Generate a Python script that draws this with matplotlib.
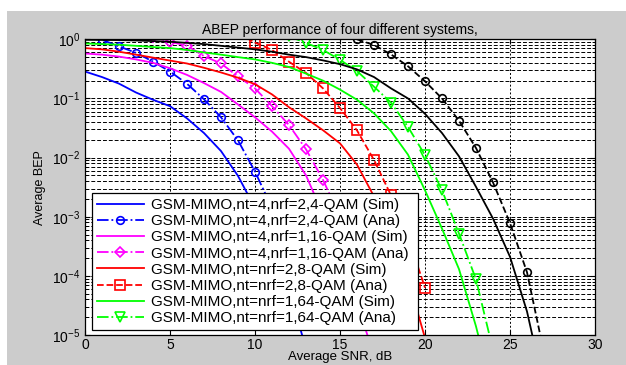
import matplotlib
matplotlib.use("Agg")
import matplotlib.pyplot as plt
import numpy as np
from matplotlib.patches import Rectangle

plt.rcParams["font.family"] = ["Liberation Sans", "DejaVu Sans"]
plt.rcParams["mathtext.default"] = "regular"

# SNR grid (dB) and BEP values
snr_blue_sim = list(range(0, 14))
bep_blue_sim = [0.285, 0.23, 0.178, 0.126, 0.095, 0.074, 0.046, 0.026, 0.0129, 0.0049,
                1.4e-3, 3.2e-4, 5.6e-5, 6.0e-6]
snr_blue_ana = list(range(0, 13))
bep_blue_ana = [1.25, 0.98, 0.76, 0.59, 0.42, 0.285, 0.177, 0.097, 0.048, 0.0195,
                0.0058, 1.4e-3, 2.5e-4]

snr_mag_sim = list(range(0, 18))
bep_mag_sim = [0.575, 0.55, 0.51, 0.457, 0.40, 0.324, 0.25, 0.182, 0.129, 0.079,
               0.048, 0.0275, 0.0141, 0.005, 1.1e-3, 2.2e-4, 3.5e-5, 4.5e-6]
snr_mag_ana = list(range(4, 17))
bep_mag_ana = [1.1, 0.91, 0.78, 0.52, 0.39, 0.235, 0.148, 0.074, 0.0355, 0.0138,
               0.0042, 1.0e-3, 1.8e-4]

snr_red_sim = list(range(0, 21))
bep_red_sim = [0.71, 0.676, 0.617, 0.55, 0.49, 0.437, 0.39, 0.33, 0.275, 0.224,
               0.174, 0.117, 0.071, 0.046, 0.029, 0.0174, 7.6e-3, 2.2e-3, 5.0e-4,
               8.9e-5, 8.9e-6]
snr_red_ana = list(range(9, 21))
bep_red_ana = [1.25, 0.88, 0.66, 0.417, 0.27, 0.148, 0.069, 0.0288, 0.0091, 2.3e-3,
               4.5e-4, 6.3e-5]

snr_grn_sim = list(range(0, 25))
bep_grn_sim = [0.85, 0.83, 0.81, 0.776, 0.74, 0.71, 0.66, 0.60, 0.55, 0.50, 0.457,
               0.40, 0.34, 0.263, 0.20, 0.141, 0.095, 0.056, 0.028, 0.0112, 2.8e-3,
               6.3e-4, 1.3e-4, 1.4e-5, 1.0e-6]
snr_grn_ana = list(range(12, 25))
bep_grn_ana = [1.12, 0.87, 0.66, 0.45, 0.29, 0.158, 0.085, 0.033, 0.011, 2.8e-3,
               5.2e-4, 8.7e-5, 5.6e-6]

snr_blk_sim = list(range(0, 28))
bep_blk_sim = [0.98, 0.975, 0.97, 0.955, 0.933, 0.91, 0.87, 0.83, 0.776, 0.724,
               0.676, 0.617, 0.55, 0.50, 0.44, 0.38, 0.31, 0.23, 0.148, 0.10, 0.055,
               0.026, 0.0105, 3.2e-3, 9.3e-4, 2.1e-4, 2.5e-5, 1.3e-6]
snr_blk_ana = list(range(16, 28))
bep_blk_ana = [1.0, 0.80, 0.556, 0.35, 0.195, 0.10, 0.042, 0.0145, 3.8e-3, 7.8e-4,
               1.15e-4, 5.0e-6]

labels = ["GSM-MIMO,nt=4,nrf=2,4-QAM (Sim)",
          "GSM-MIMO,nt=4,nrf=2,4-QAM (Ana)",
          "GSM-MIMO,nt=4,nrf=1,16-QAM (Sim)",
          "GSM-MIMO,nt=4,nrf=1,16-QAM (Ana)",
          "GSM-MIMO,nt=nrf=2,8-QAM (Sim)",
          "GSM-MIMO,nt=nrf=2,8-QAM (Ana)",
          "GSM-MIMO,nt=nrf=1,64-QAM (Sim)",
          "GSM-MIMO,nt=nrf=1,64-QAM (Ana)"]

fig = plt.figure(figsize=(6.26, 3.65), dpi=100, facecolor="white")
fig.patches.append(Rectangle((7 / 626, 0), 1, (365 - 11) / 365,
                             transform=fig.transFigure, facecolor="#cccccc",
                             edgecolor="none", zorder=-10))
ax = fig.add_axes([85 / 626, 30 / 365, 510 / 626, 295.7 / 365])
ax.set_facecolor("white")

lw = 1.3
mk = dict(markerfacecolor="none", markeredgewidth=1.2)
ax.plot(snr_blue_sim, bep_blue_sim, "-", color="blue", lw=lw, label=labels[0])
ax.plot(snr_blue_ana, bep_blue_ana, "-.", color="blue", lw=lw, marker="o", ms=5.5,
        label=labels[1], **mk)
ax.plot(snr_mag_sim, bep_mag_sim, "-", color="magenta", lw=lw, label=labels[2])
ax.plot(snr_mag_ana, bep_mag_ana, "-.", color="magenta", lw=lw, marker="D", ms=5,
        label=labels[3], **mk)
ax.plot(snr_red_sim, bep_red_sim, "-", color="red", lw=lw, label=labels[4])
ax.plot(snr_red_ana, bep_red_ana, "--", color="red", lw=lw, marker="s", ms=6.5,
        label=labels[5], **mk)
ax.plot(snr_grn_sim, bep_grn_sim, "-", color="#00ff00", lw=lw, label=labels[6])
ax.plot(snr_grn_ana, bep_grn_ana, "-.", color="#00ff00", lw=lw, marker="v", ms=7.5,
        label=labels[7], **mk)
ax.plot(snr_blk_sim, bep_blk_sim, "-", color="black", lw=lw)
ax.plot(snr_blk_ana, bep_blk_ana, "--", color="black", lw=lw, marker="o", ms=5.5, **mk)

ax.set_yscale("log")
ax.set_xlim(0, 30)
ax.set_ylim(1e-5, 1)
ax.set_xticks([0, 5, 10, 15, 20, 25, 30])
ax.set_yticks([1e-5, 1e-4, 1e-3, 1e-2, 1e-1, 1])

ax.grid(True, which="major", axis="x", color="black", linestyle=(0, (2, 2)), lw=0.7)
ax.grid(True, which="both", axis="y", color="black", linestyle=(0, (4, 2)), lw=0.7)
ax.tick_params(which="both", direction="in", top=True, right=True, labelsize=10)
ax.tick_params(axis="x", pad=2.5)
for s in ax.spines.values():
    s.set_linewidth(0.9)

ax.set_title("ABEP performance of four different systems,", fontsize=10, pad=4)
ax.set_xlabel("Average SNR, dB", fontsize=9.5, labelpad=-1)
ax.set_ylabel("Average BEP", fontsize=9, labelpad=4)

leg = ax.legend(loc="lower left", bbox_to_anchor=(0.0137, 0.017, 0.6393, 0.45),
                mode="expand", borderaxespad=0,
                fontsize=11, handlelength=3.1, labelspacing=0.145, borderpad=0.3,
                handletextpad=0.45, fancybox=False, framealpha=1, edgecolor="black")
leg.get_frame().set_linewidth(0.9)

fig.savefig("out.png", dpi=100, facecolor=fig.get_facecolor())
